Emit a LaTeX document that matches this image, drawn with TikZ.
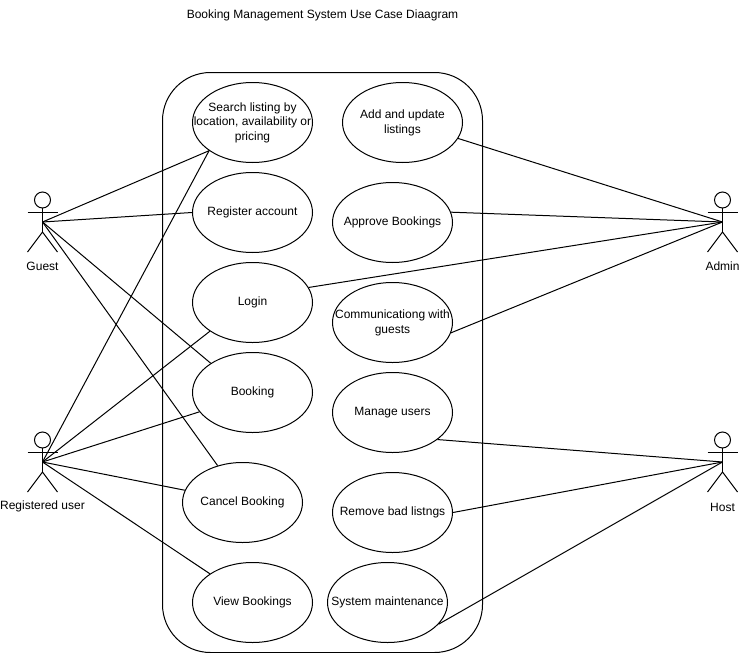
\documentclass[tikz,border=0pt]{standalone}
\usepackage{fontspec}
\setmainfont{Liberation Sans}
\usetikzlibrary{shapes.geometric}
\tikzset{
  usecase/.style={draw=black,line width=0.75pt,ellipse,minimum width=90pt,minimum height=60pt,inner sep=0pt,font=\fontsize{9}{10.9}\selectfont},
  label/.style={font=\fontsize{9}{10.9}\selectfont,inner sep=0pt},
  link/.style={draw=black,line width=0.75pt},
  actorline/.style={draw=black,line width=0.75pt},
  system/.style={draw=black,line width=0.75pt,rounded corners=36pt}
}
\newcommand{\uctext}[1]{\raisebox{-5.1pt}{\smash{\makebox[0pt]{\begin{tabular}{@{}c@{}}#1\end{tabular}}}}}
\newcommand{\actorfig}[3]{% name, x, y of head centre
  \coordinate (#1) at (#2,#3+22);
  \draw[actorline] (#2,#3) circle[radius=6pt];
  \draw[actorline] (#2,#3+8) -- (#2,#3+32);
  \draw[actorline] (#2-15,#3+12) -- (#2+15,#3+12);
  \draw[actorline] (#2-15,#3+52) -- (#2,#3+32) -- (#2+15,#3+52);
}
\begin{document}
\begin{tikzpicture}[x=0.75pt,y=-0.75pt]
\useasboundingbox (0,0) rectangle (753,653);
\draw[system] (162.5,72.5) rectangle (482.5,652.5);
\node[label] (title) at (322.5,15) {Booking Management System Use Case Diaagram};

\actorfig{guest}{42.5}{200}
\actorfig{admin}{722.5}{200}
\actorfig{reg}{42.5}{440}
\actorfig{host}{722.5}{440}
\node[label] (guestl) at (42.5,266.5) {Guest};
\node[label] (adminl) at (722.5,266.5) {Admin};
\node[label] (regl) at (42.5,506) {Registered user};
\node[label] (hostl) at (722.5,507) {Host};

\node[usecase] (search) at (252.5,122.5) {\uctext{Search listing by\\location, availability or\\pricing}};
\node[usecase] (register) at (252.5,212.5) {\uctext{Register account}};
\node[usecase] (login) at (252.5,302.5) {\uctext{Login}};
\node[usecase] (booking) at (252.5,392.5) {\uctext{Booking}};
\node[usecase] (cancel) at (242.5,502.5) {\uctext{Cancel Booking}};
\node[usecase] (view) at (252.5,602.5) {\uctext{View Bookings}};
\node[usecase] (add) at (402.5,122.5) {\uctext{Add and update\\listings}};
\node[usecase] (approve) at (392.5,222.5) {\uctext{Approve Bookings}};
\node[usecase] (comm) at (392.5,322.5) {\uctext{Communicationg with\\guests}};
\node[usecase] (manage) at (392.5,412.5) {\uctext{Manage users}};
\node[usecase] (remove) at (392.5,512.5) {\uctext{Remove bad listngs}};
\node[usecase] (maint) at (387.5,602.5) {\uctext{System maintenance}};

\draw[link] (guest) -- (search.213.7);
\draw[link] (guest) -- (register.180);
\draw[link] (guest) -- (booking.145.4);
\draw[link] (guest) -- (cancel.124.4);
\draw[link] (reg) -- (search.213.7);
\draw[link] (reg) -- (login.214.6);
\draw[link] (reg) -- (booking.200);
\draw[link] (reg) -- (cancel.168.5);
\draw[link] (reg) -- (view.146.3);
\draw[link] (admin) -- (add.-16.2);
\draw[link] (admin) -- (approve.10.4);
\draw[link] (admin) -- (login.15);
\draw[link] (admin) -- (comm.-10.4);
\draw[link] (host) -- (manage.-31.9);
\draw[link] (host) -- (remove.0);
\draw[link] (host) -- (maint.-23.5);
\end{tikzpicture}
\end{document}
